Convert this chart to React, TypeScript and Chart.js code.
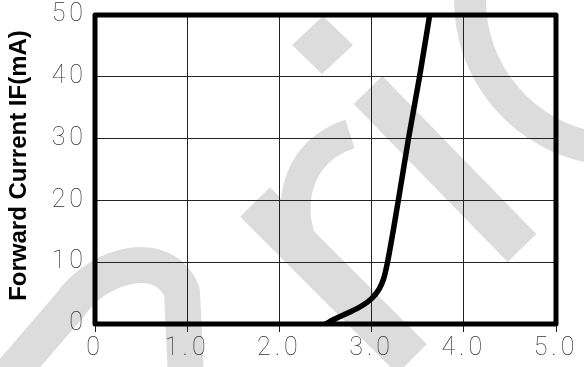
import React, { useEffect, useRef } from "react";
import { Chart, registerables } from "chart.js";

Chart.register(...registerables);

const voltage = [2.5, 2.6, 2.73, 2.9, 3.0, 3.08, 3.13, 3.17, 3.29, 3.4, 3.52, 3.63];
const current = [0, 0.8, 1.7, 3.0, 4.1, 5.6, 7.3, 9.8, 20, 30, 40, 50];
const xTicks = [0, 1, 2, 3, 4, 5];
const yTicks = [0, 10, 20, 30, 40, 50];
const yTitle = "Forward Current IF(mA)";

// light-grey background watermark (decoration, page pixels)
const watermarkPlugin = {
  id: "watermark",
  beforeDraw(chart: any) {
    const ctx = chart.ctx;
    ctx.save();
    ctx.strokeStyle = "#dcdcdc";
    ctx.fillStyle = "#dcdcdc";
    ctx.lineCap = "butt";
    ctx.lineJoin = "round";
    // "a"
    ctx.lineWidth = 36;
    ctx.beginPath();
    ctx.moveTo(8, 377);
    ctx.lineTo(70, 305);
    ctx.bezierCurveTo(100, 262, 165, 248, 182, 292);
    ctx.lineTo(186, 377);
    ctx.stroke();
    // "r" stem
    ctx.lineWidth = 42;
    ctx.beginPath();
    ctx.moveTo(255, 202);
    ctx.lineTo(412, 359);
    ctx.stroke();
    // "r" shoulder
    ctx.lineWidth = 30;
    ctx.beginPath();
    ctx.moveTo(350, 134);
    ctx.bezierCurveTo(300, 150, 285, 200, 303, 245);
    ctx.stroke();
    // "i" stem
    ctx.lineWidth = 40;
    ctx.beginPath();
    ctx.moveTo(368, 90);
    ctx.lineTo(522, 248);
    ctx.stroke();
    // "i" dot
    ctx.beginPath();
    ctx.moveTo(292, 45);
    ctx.lineTo(323, 16);
    ctx.lineTo(353, 45);
    ctx.lineTo(322, 74);
    ctx.closePath();
    ctx.fill();
    // "c"
    ctx.lineWidth = 32;
    ctx.beginPath();
    ctx.arc(620, 0, 150, Math.PI * 0.55, Math.PI);
    ctx.stroke();
    ctx.restore();
    // wider spacing for the thin tick-label digits
    (ctx as any).letterSpacing = "4px";
  },
};

const framePlugin = {
  id: "frame",
  afterDatasetsDraw(chart: any) {
    const { ctx, chartArea } = chart;
    ctx.save();
    ctx.strokeStyle = "#000";
    ctx.lineWidth = 5;
    ctx.lineJoin = "round";
    ctx.strokeRect(chartArea.left, chartArea.top, chartArea.right - chartArea.left, chartArea.bottom - chartArea.top);
    ctx.restore();
  },
  afterDraw(chart: any) {
    const { ctx, chartArea } = chart;
    ctx.save();
    (ctx as any).letterSpacing = "0px";
    ctx.translate(19, (chartArea.top + chartArea.bottom) / 2 - 4);
    ctx.rotate(-Math.PI / 2);
    ctx.font = "bold 24px 'Liberation Sans'";
    ctx.fillStyle = "#000";
    ctx.textAlign = "center";
    ctx.textBaseline = "middle";
    ctx.fillText(yTitle, 0, 0);
    ctx.restore();
  },
};

export default function App() {
  const ref = useRef<HTMLCanvasElement>(null);
  useEffect(() => {
    document.body.style.margin = "0";
    const pts = voltage.map((v, i) => ({ x: v, y: current[i] }));
    const tickFont = { family: "Roboto", size: 25, weight: "100" as any };
    const chart = new Chart(ref.current!, {
      type: "scatter",
      data: {
        datasets: [
          {
            data: pts,
            showLine: true,
            borderColor: "#000",
            borderWidth: 5.5,
            pointRadius: 0,
            cubicInterpolationMode: "monotone",
          } as any,
          {
            data: pts,
            showLine: true,
            borderColor: "#f0f0f0",
            borderWidth: 1,
            borderDash: [2, 2],
            pointRadius: 0,
            cubicInterpolationMode: "monotone",
          } as any,
        ],
      },
      options: {
        animation: false,
        responsive: false,
        layout: { padding: { top: 15, right: 28, left: 0, bottom: 0 } },
        plugins: { legend: { display: false }, tooltip: { enabled: false } },
        scales: {
          x: {
            type: "linear",
            min: 0,
            max: 5,
            afterBuildTicks: (s: any) => {
              s.ticks = xTicks.map((v) => ({ value: v }));
            },
            afterFit: (s: any) => {
              s.height = 43;
              s.paddingLeft = 0;
              s.paddingRight = 0;
            },
            ticks: {
              font: tickFont,
              color: "#333",
              padding: 2,
              callback: (v: any) => (v === 0 ? "0" : Number(v).toFixed(1)),
            },
            grid: { color: "#222", lineWidth: 1, tickLength: 8 },
            border: { display: false },
          },
          y: {
            type: "linear",
            min: 0,
            max: 50,
            afterBuildTicks: (s: any) => {
              s.ticks = yTicks.map((v) => ({ value: v }));
            },
            afterFit: (s: any) => {
              s.width = 95;
              s.paddingTop = 0;
              s.paddingBottom = 0;
            },
            ticks: { font: tickFont, color: "#333", padding: 8 },
            grid: { color: "#222", lineWidth: 1, drawTicks: false },
            border: { display: false },
          },
        },
      },
      plugins: [watermarkPlugin, framePlugin],
    });
    return () => chart.destroy();
  }, []);
  return (
    <div style={{ width: 584, height: 367 }}>
      <canvas ref={ref} width={584} height={367} />
    </div>
  );
}
